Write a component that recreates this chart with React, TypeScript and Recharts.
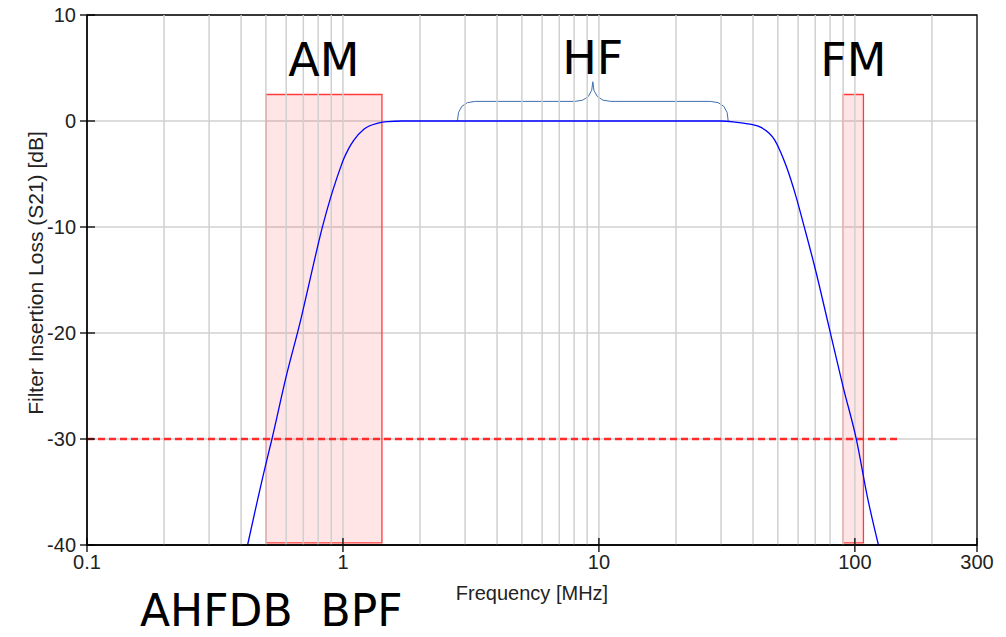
import React from "react";
import {
  LineChart,
  Line,
  XAxis,
  YAxis,
  CartesianGrid,
  ReferenceLine,
  ReferenceArea,
} from "recharts";

// filter response (MHz, dB)
const freqMHz = [
  0.424, 0.497, 0.528, 0.596, 0.688, 0.746, 0.829, 0.893, 0.94, 0.978, 1.0, 1.05,
  1.1, 1.21, 1.37, 1.49, 1.7, 3, 10, 30, 34, 39, 43, 46, 48.5, 51, 54, 59, 63.6,
  69.6, 79.7, 90, 101.5, 112, 123.6,
];
const lossDb = [
  -40, -32.6, -30, -24.4, -18.5, -14.8, -10.1, -7.3, -5.6, -4.4, -3.75, -2.65,
  -1.85, -0.75, -0.2, -0.05, 0, 0, 0, 0, -0.1, -0.3, -0.6, -1.1, -1.75, -2.8,
  -4.3, -7.2, -10.1, -13.7, -19.7, -25.1, -30.1, -35.5, -40,
];

const xTicks = [0.1, 1, 10, 100, 300];
const yTicks = [10, 0, -10, -20, -30, -40];
const gridFreqs = [
  0.2, 0.3, 0.4, 0.5, 0.6, 0.7, 0.8, 0.9, 1, 2, 3, 4, 5, 6, 7, 8, 9, 10, 20, 30,
  40, 50, 60, 70, 80, 90, 100, 200,
];

// bands
const amBand = [0.5, 1.42];
const fmBand = [90, 108];
const bandTop = 2.5;
const bandBottom = -39.8;
const hfBand = [2.8, 32];
const hfBraceTop = 3.7;
const limitDb = -30;
const limitEnd = 150;

const data = freqMHz.map((f, i) => ({ f, db: lossDb[i] }));

const tickFont = "'Liberation Sans', Arial, sans-serif";
const bigFont = "'DejaVu Sans', sans-serif";

const YTick = ({ x, y, payload }: any) => (
  <g>
    <line x1={x - 7} x2={x + 8} y1={y} y2={y} stroke="#000" strokeWidth={1.3} />
    <text x={x - 11} y={y} dy="0.36em" textAnchor="end" fontSize={20} fill="#222" fontFamily={tickFont}>
      {payload.value}
    </text>
  </g>
);

const XTick = ({ x, y, payload }: any) => (
  <g>
    <line x1={x} x2={x} y1={y - 7} y2={y + 7} stroke="#000" strokeWidth={1.3} />
    <text x={x} y={y + 24} textAnchor="middle" fontSize={20} fill="#222" fontFamily={tickFont}>
      {payload.value}
    </text>
  </g>
);

const Brace = ({ x, y, width, height }: any) => {
  const yb = y + height;
  const ym = y + height / 2;
  const xc = x + width / 2;
  const r = 18;
  const d =
    `M${x},${yb} Q${x},${ym} ${x + r},${ym} L${xc - r},${ym} Q${xc},${ym} ${xc},${y} ` +
    `Q${xc},${ym} ${xc + r},${ym} L${x + width - r},${ym} Q${x + width},${ym} ${x + width},${yb}`;
  return <path d={d} fill="none" stroke="#3f6fb0" strokeWidth={1} />;
};

const YLabel = ({ viewBox }: any) => {
  const cx = viewBox.x + 35;
  const cy = viewBox.y + viewBox.height / 2 - 7;
  return (
    <text
      x={cx}
      y={cy}
      transform={`rotate(-90, ${cx}, ${cy})`}
      textAnchor="middle"
      dominantBaseline="central"
      fontSize={21}
      fill="#222"
      fontFamily={tickFont}
    >
      Filter Insertion Loss (S21) [dB]
    </text>
  );
};

const bigLabel = (value: string, offset: number) => ({
  value,
  position: "top" as const,
  offset,
  fontSize: 46,
  fill: "#000",
  fontFamily: bigFont,
});

export default function App() {
  return (
    <div style={{ position: "relative", width: 998, height: 629, margin: "-8px 0 0 -8px" }}>
      <LineChart width={998} height={629} data={data} margin={{ top: 15, right: 21, bottom: 24, left: 0 }}>
        <CartesianGrid vertical={false} stroke="#d0d0d0" strokeWidth={1.5} />
        {gridFreqs.map((f) => (
          <ReferenceLine key={f} x={f} stroke="#d0d0d0" strokeWidth={1.5} />
        ))}
        <XAxis
          dataKey="f"
          type="number"
          scale="log"
          domain={[0.1, 300]}
          ticks={xTicks}
          interval={0}
          allowDataOverflow
          height={60}
          tickSize={0}
          tickMargin={0}
          tick={<XTick />}
          axisLine={{ stroke: "#000", strokeWidth: 1.3 }}
          label={{
            value: "Frequency [MHz]",
            position: "insideBottom",
            offset: 5,
            fontSize: 20,
            fill: "#222",
            fontFamily: tickFont,
          }}
        />
        <YAxis
          type="number"
          domain={[-40, 10]}
          ticks={yTicks}
          interval={0}
          width={87}
          tickSize={0}
          tickMargin={0}
          tick={<YTick />}
          axisLine={{ stroke: "#000", strokeWidth: 1.3 }}
          label={<YLabel />}
        />
        <ReferenceArea
          x1={amBand[0]}
          x2={amBand[1]}
          y1={bandBottom}
          y2={bandTop}
          fill="#ff0000"
          fillOpacity={0.1}
          stroke="#ff3b3b"
          strokeWidth={1.3}
          label={bigLabel("AM", 19)}
        />
        <ReferenceArea
          x1={fmBand[0]}
          x2={fmBand[1]}
          y1={bandBottom}
          y2={bandTop}
          fill="#ff0000"
          fillOpacity={0.1}
          stroke="#ff3b3b"
          strokeWidth={1.3}
          label={bigLabel("FM", 19)}
        />
        <ReferenceArea
          x1={hfBand[0]}
          x2={hfBand[1]}
          y1={0}
          y2={hfBraceTop}
          shape={<Brace />}
          label={bigLabel("HF", 8)}
        />
        <ReferenceLine
          segment={[
            { x: 0.1, y: limitDb },
            { x: limitEnd, y: limitDb },
          ]}
          stroke="#ff2a2a"
          strokeWidth={2.6}
          strokeDasharray="7 4"
        />
        <ReferenceArea x1={0.1} x2={300} y1={-40} y2={10} fill="none" stroke="#000" strokeWidth={1.3} />
        <Line
          type="monotone"
          dataKey="db"
          stroke="#0000ff"
          strokeWidth={1.3}
          dot={false}
          isAnimationActive={false}
        />
      </LineChart>
      <div
        style={{
          position: "absolute",
          left: 140,
          top: 589,
          fontFamily: bigFont,
          fontSize: 44,
          lineHeight: 1,
          whiteSpace: "pre",
          color: "#000",
        }}
      >
        AHFDB  BPF
      </div>
    </div>
  );
}
